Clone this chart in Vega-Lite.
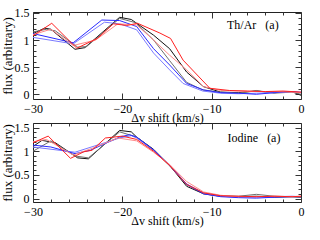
{
 "$schema": "https://vega.github.io/schema/vega-lite/v6.json",
 "padding": {"left": 0, "top": 6, "right": 5, "bottom": 5},
 "spacing": 24,
 "bounds": "flush",
 "datasets": {
  "top": [
   {"s":"k","v":-30,"f":1.12},{"s":"k","v":-28.7,"f":1.22},{"s":"k","v":-28,"f":1.2},{"s":"k","v":-25.3,"f":0.83},{"s":"k","v":-24.2,"f":0.86},{"s":"k","v":-20.3,"f":1.42},{"s":"k","v":-19,"f":1.38},{"s":"k","v":-16.5,"f":1.09},{"s":"k","v":-14.7,"f":0.84},{"s":"k","v":-12.8,"f":0.41},{"s":"k","v":-10.9,"f":0.14},{"s":"k","v":-9,"f":0.04},{"s":"k","v":-7,"f":0.03},{"s":"k","v":-5,"f":0.06},{"s":"k","v":-3,"f":0.03},{"s":"k","v":-1,"f":0.05},{"s":"k","v":0,"f":-0.02},
   {"s":"g","v":-30,"f":1.15},{"s":"g","v":-28.5,"f":1.2},{"s":"g","v":-27.5,"f":1.17},{"s":"g","v":-25,"f":0.87},{"s":"g","v":-24,"f":0.88},{"s":"g","v":-20.3,"f":1.4},{"s":"g","v":-18.5,"f":1.32},{"s":"g","v":-16.5,"f":1.0},{"s":"g","v":-14.7,"f":0.62},{"s":"g","v":-12.8,"f":0.22},{"s":"g","v":-11,"f":0.08},{"s":"g","v":-9,"f":0.04},{"s":"g","v":-7,"f":0.02},{"s":"g","v":-5,"f":0.07},{"s":"g","v":-3,"f":0.02},{"s":"g","v":-1,"f":0.04},{"s":"g","v":0,"f":0.0},
   {"s":"lb","v":-30,"f":1.05},{"s":"lb","v":-25.5,"f":0.93},{"s":"lb","v":-22,"f":1.33},{"s":"lb","v":-20.3,"f":1.3},{"s":"lb","v":-18.4,"f":1.19},{"s":"lb","v":-16.5,"f":0.76},{"s":"lb","v":-14.7,"f":0.45},{"s":"lb","v":-13.2,"f":0.2},{"s":"lb","v":-11,"f":0.06},{"s":"lb","v":-9,"f":0.02},{"s":"lb","v":-7,"f":0.01},{"s":"lb","v":-5,"f":0.02},{"s":"lb","v":-3,"f":0.03},{"s":"lb","v":-1,"f":0.05},{"s":"lb","v":0,"f":0.04},
   {"s":"b","v":-30,"f":1.12},{"s":"b","v":-25.5,"f":0.95},{"s":"b","v":-22.3,"f":1.37},{"s":"b","v":-20.3,"f":1.36},{"s":"b","v":-18.4,"f":1.25},{"s":"b","v":-16.5,"f":0.84},{"s":"b","v":-14.7,"f":0.54},{"s":"b","v":-12.8,"f":0.2},{"s":"b","v":-10.9,"f":0.08},{"s":"b","v":-9,"f":0.03},{"s":"b","v":-7,"f":0.02},{"s":"b","v":-5,"f":0.0},{"s":"b","v":-3,"f":0.03},{"s":"b","v":-1,"f":0.05},{"s":"b","v":0,"f":0.03},
   {"s":"lr","v":-30,"f":1.1},{"s":"lr","v":-28,"f":1.2},{"s":"lr","v":-25.5,"f":0.9},{"s":"lr","v":-23,"f":1.0},{"s":"lr","v":-20.5,"f":1.3},{"s":"lr","v":-18.4,"f":1.28},{"s":"lr","v":-16.5,"f":1.0},{"s":"lr","v":-14.7,"f":0.72},{"s":"lr","v":-12.8,"f":0.45},{"s":"lr","v":-10.9,"f":0.14},{"s":"lr","v":-9,"f":0.07},{"s":"lr","v":-7,"f":0.06},{"s":"lr","v":-5,"f":0.05},{"s":"lr","v":-3,"f":0.05},{"s":"lr","v":-1,"f":0.04},{"s":"lr","v":0,"f":0.03},
   {"s":"r","v":-30,"f":1.08},{"s":"r","v":-27.9,"f":1.31},{"s":"r","v":-25.1,"f":0.85},{"s":"r","v":-22.8,"f":1.03},{"s":"r","v":-21,"f":1.3},{"s":"r","v":-19.5,"f":1.27},{"s":"r","v":-18.3,"f":1.31},{"s":"r","v":-15.8,"f":1.13},{"s":"r","v":-14.6,"f":1.03},{"s":"r","v":-13.2,"f":0.63},{"s":"r","v":-10.2,"f":0.11},{"s":"r","v":-8,"f":0.07},{"s":"r","v":-6,"f":0.06},{"s":"r","v":-4,"f":0.05},{"s":"r","v":-2,"f":0.06},{"s":"r","v":0,"f":0.04}
  ],
  "bot": [
   {"s":"k","v":-30,"f":1.1},{"s":"k","v":-29,"f":1.23},{"s":"k","v":-27.5,"f":1.18},{"s":"k","v":-25,"f":0.86},{"s":"k","v":-23.8,"f":0.84},{"s":"k","v":-20.3,"f":1.44},{"s":"k","v":-19,"f":1.41},{"s":"k","v":-18.4,"f":1.3},{"s":"k","v":-16.5,"f":1.04},{"s":"k","v":-14.7,"f":0.7},{"s":"k","v":-12.8,"f":0.26},{"s":"k","v":-10.9,"f":0.1},{"s":"k","v":-9,"f":0.05},{"s":"k","v":-7,"f":0.04},{"s":"k","v":-5,"f":0.05},{"s":"k","v":-3,"f":0.03},{"s":"k","v":-1,"f":0.04},{"s":"k","v":0,"f":0.03},
   {"s":"g","v":-30,"f":1.0},{"s":"g","v":-28,"f":1.22},{"s":"g","v":-25.3,"f":0.9},{"s":"g","v":-23.8,"f":0.86},{"s":"g","v":-20.3,"f":1.41},{"s":"g","v":-18.4,"f":1.3},{"s":"g","v":-16.5,"f":1.02},{"s":"g","v":-14.7,"f":0.69},{"s":"g","v":-12.8,"f":0.3},{"s":"g","v":-10.9,"f":0.12},{"s":"g","v":-9,"f":0.06},{"s":"g","v":-7,"f":0.05},{"s":"g","v":-5,"f":0.09},{"s":"g","v":-3,"f":0.05},{"s":"g","v":-1,"f":0.04},{"s":"g","v":0,"f":0.04},
   {"s":"lb","v":-30,"f":1.09},{"s":"lb","v":-25.3,"f":0.98},{"s":"lb","v":-20.3,"f":1.28},{"s":"lb","v":-19,"f":1.33},{"s":"lb","v":-18.4,"f":1.28},{"s":"lb","v":-16.5,"f":1.02},{"s":"lb","v":-14.7,"f":0.71},{"s":"lb","v":-12.8,"f":0.31},{"s":"lb","v":-10.9,"f":0.11},{"s":"lb","v":-9,"f":0.05},{"s":"lb","v":-7,"f":0.03},{"s":"lb","v":-5,"f":0.03},{"s":"lb","v":-3,"f":0.04},{"s":"lb","v":-1,"f":0.05},{"s":"lb","v":0,"f":0.04},
   {"s":"b","v":-30,"f":1.13},{"s":"b","v":-28,"f":1.09},{"s":"b","v":-25.3,"f":0.95},{"s":"b","v":-23.6,"f":1.02},{"s":"b","v":-20.3,"f":1.3},{"s":"b","v":-19.2,"f":1.35},{"s":"b","v":-18.4,"f":1.3},{"s":"b","v":-16.5,"f":1.03},{"s":"b","v":-14.7,"f":0.7},{"s":"b","v":-12.8,"f":0.3},{"s":"b","v":-10.9,"f":0.1},{"s":"b","v":-9,"f":0.04},{"s":"b","v":-7,"f":0.02},{"s":"b","v":-5,"f":0.01},{"s":"b","v":-3,"f":0.03},{"s":"b","v":-1,"f":0.04},{"s":"b","v":0,"f":0.04},
   {"s":"lr","v":-30,"f":1.2},{"s":"lr","v":-28.5,"f":1.25},{"s":"lr","v":-25.5,"f":0.92},{"s":"lr","v":-23.4,"f":1.06},{"s":"lr","v":-20.5,"f":1.28},{"s":"lr","v":-18.4,"f":1.22},{"s":"lr","v":-16.5,"f":0.98},{"s":"lr","v":-14.7,"f":0.72},{"s":"lr","v":-12.8,"f":0.36},{"s":"lr","v":-10.9,"f":0.14},{"s":"lr","v":-9,"f":0.07},{"s":"lr","v":-7,"f":0.04},{"s":"lr","v":-5,"f":0.04},{"s":"lr","v":-3,"f":0.05},{"s":"lr","v":-1,"f":0.04},{"s":"lr","v":0,"f":0.05},
   {"s":"r","v":-30,"f":1.18},{"s":"r","v":-28.3,"f":1.32},{"s":"r","v":-25.8,"f":0.85},{"s":"r","v":-24.3,"f":0.99},{"s":"r","v":-23.4,"f":1.02},{"s":"r","v":-21.9,"f":1.28},{"s":"r","v":-20,"f":1.32},{"s":"r","v":-18.4,"f":1.25},{"s":"r","v":-16.5,"f":1.0},{"s":"r","v":-14.7,"f":0.7},{"s":"r","v":-12.8,"f":0.3},{"s":"r","v":-10.9,"f":0.12},{"s":"r","v":-9,"f":0.06},{"s":"r","v":-7,"f":0.05},{"s":"r","v":-5,"f":0.04},{"s":"r","v":-3,"f":0.05},{"s":"r","v":-1,"f":0.04},{"s":"r","v":0,"f":0.05}
  ]
 },
 "vconcat": [
  {
   "width": 268, "height": 87,
   "resolve": {"axis": {"x": "independent", "y": "independent"}},
   "layer": [
    {
     "data": {"name": "top"},
     "mark": {"type": "line", "strokeWidth": 1},
     "encoding": {
      "x": {"field": "v", "type": "quantitative", "scale": {"domain": [-30, 0], "nice": false, "zero": false},
            "axis": {"orient": "bottom", "values": [-30,-28,-26,-24,-22,-20,-18,-16,-14,-12,-10,-8,-6,-4,-2,0], "format": "~g",
                     "tickSize": {"condition": {"test": "datum.value % 10 === 0", "value": -6}, "value": -3},
                     "labelExpr": "datum.value % 10 === 0 ? datum.label : ''", "labelPadding": 10, "title": "Δv shift (km/s)", "titleFontSize": 12, "titlePadding": -5}},
      "y": {"field": "f", "type": "quantitative", "scale": {"domain": [-0.087, 1.518], "nice": false, "zero": false},
            "axis": {"orient": "left", "values": [0,0.1,0.2,0.3,0.4,0.5,0.6,0.7,0.8,0.9,1,1.1,1.2,1.3,1.4,1.5], "format": "~g",
                     "tickSize": {"condition": {"test": "abs(datum.value*2 - round(datum.value*2)) < 0.001", "value": -6}, "value": -3},
                     "labelExpr": "abs(datum.value*2 - round(datum.value*2)) < 0.001 ? datum.label : ''", "labelPadding": 10, "title": "flux (arbitrary)", "titleFontSize": 13, "titlePadding": 0}},
      "color": {"field": "s", "type": "nominal", "sort": ["k","g","lb","b","lr","r"],
                "scale": {"domain": ["k","g","lb","b","lr","r"], "range": ["#111111","#6e6e6e","#7a7aff","#2a2aff","#ff8a8a","#ff2020"]}, "legend": null}
     }
    },
    {
     "data": {"values": [{}]},
     "mark": {"type": "text", "align": "right", "baseline": "middle", "font": "Liberation Serif", "fontSize": 12, "color": "black"},
     "encoding": {
      "x": {"datum": -2.5, "type": "quantitative",
            "axis": {"orient": "top", "values": [-30,-28,-26,-24,-22,-20,-18,-16,-14,-12,-10,-8,-6,-4,-2,0],
                     "tickSize": {"condition": {"test": "datum.value % 10 === 0", "value": -6}, "value": -3}, "labels": false, "title": null}},
      "y": {"datum": 1.28, "type": "quantitative",
            "axis": {"orient": "right", "values": [0,0.1,0.2,0.3,0.4,0.5,0.6,0.7,0.8,0.9,1,1.1,1.2,1.3,1.4,1.5],
                     "tickSize": {"condition": {"test": "abs(datum.value*2 - round(datum.value*2)) < 0.001", "value": -6}, "value": -3}, "labels": false, "title": null}},
      "text": {"value": "Th/Ar\u00a0\u00a0\u00a0(a)"}
     }
    }
   ]
  },
  {
   "width": 268, "height": 79,
   "resolve": {"axis": {"x": "independent", "y": "independent"}},
   "layer": [
    {
     "data": {"name": "bot"},
     "mark": {"type": "line", "strokeWidth": 1},
     "encoding": {
      "x": {"field": "v", "type": "quantitative", "scale": {"domain": [-30, 0], "nice": false, "zero": false},
            "axis": {"orient": "bottom", "values": [-30,-28,-26,-24,-22,-20,-18,-16,-14,-12,-10,-8,-6,-4,-2,0], "format": "~g",
                     "tickSize": {"condition": {"test": "datum.value % 10 === 0", "value": -6}, "value": -3},
                     "labelExpr": "datum.value % 10 === 0 ? datum.label : ''", "labelPadding": 10, "title": "Δv shift (km/s)", "titleFontSize": 12, "titlePadding": -5}},
      "y": {"field": "f", "type": "quantitative", "scale": {"domain": [-0.072, 1.597], "nice": false, "zero": false},
            "axis": {"orient": "left", "values": [0,0.1,0.2,0.3,0.4,0.5,0.6,0.7,0.8,0.9,1,1.1,1.2,1.3,1.4,1.5], "format": "~g",
                     "tickSize": {"condition": {"test": "abs(datum.value*2 - round(datum.value*2)) < 0.001", "value": -6}, "value": -3},
                     "labelExpr": "abs(datum.value*2 - round(datum.value*2)) < 0.001 ? datum.label : ''", "labelPadding": 10, "title": "flux (arbitrary)", "titleFontSize": 13, "titlePadding": 0}},
      "color": {"field": "s", "type": "nominal", "sort": ["k","g","lb","b","lr","r"],
                "scale": {"domain": ["k","g","lb","b","lr","r"], "range": ["#111111","#6e6e6e","#7a7aff","#2a2aff","#ff8a8a","#ff2020"]}, "legend": null}
     }
    },
    {
     "data": {"values": [{}]},
     "mark": {"type": "text", "align": "right", "baseline": "middle", "font": "Liberation Serif", "fontSize": 12, "color": "black"},
     "encoding": {
      "x": {"datum": -2.3, "type": "quantitative",
            "axis": {"orient": "top", "values": [-30,-28,-26,-24,-22,-20,-18,-16,-14,-12,-10,-8,-6,-4,-2,0],
                     "tickSize": {"condition": {"test": "datum.value % 10 === 0", "value": -6}, "value": -3}, "labels": false, "title": null}},
      "y": {"datum": 1.27, "type": "quantitative",
            "axis": {"orient": "right", "values": [0,0.1,0.2,0.3,0.4,0.5,0.6,0.7,0.8,0.9,1,1.1,1.2,1.3,1.4,1.5],
                     "tickSize": {"condition": {"test": "abs(datum.value*2 - round(datum.value*2)) < 0.001", "value": -6}, "value": -3}, "labels": false, "title": null}},
      "text": {"value": "Iodine\u00a0\u00a0\u00a0(a)"}
     }
    }
   ]
  }
 ],
 "config": {
  "view": {"stroke": "#222222", "strokeWidth": 1},
  "axis": {"labelFont": "Liberation Serif", "titleFont": "Liberation Serif", "labelFontSize": 12,
           "titleFontWeight": "normal", "labelColor": "black", "titleColor": "black", "grid": false, "domain": false,
           "tickColor": "#333333", "labelFlush": false, "labelOverlap": false, "labelBound": false}
 }
}
